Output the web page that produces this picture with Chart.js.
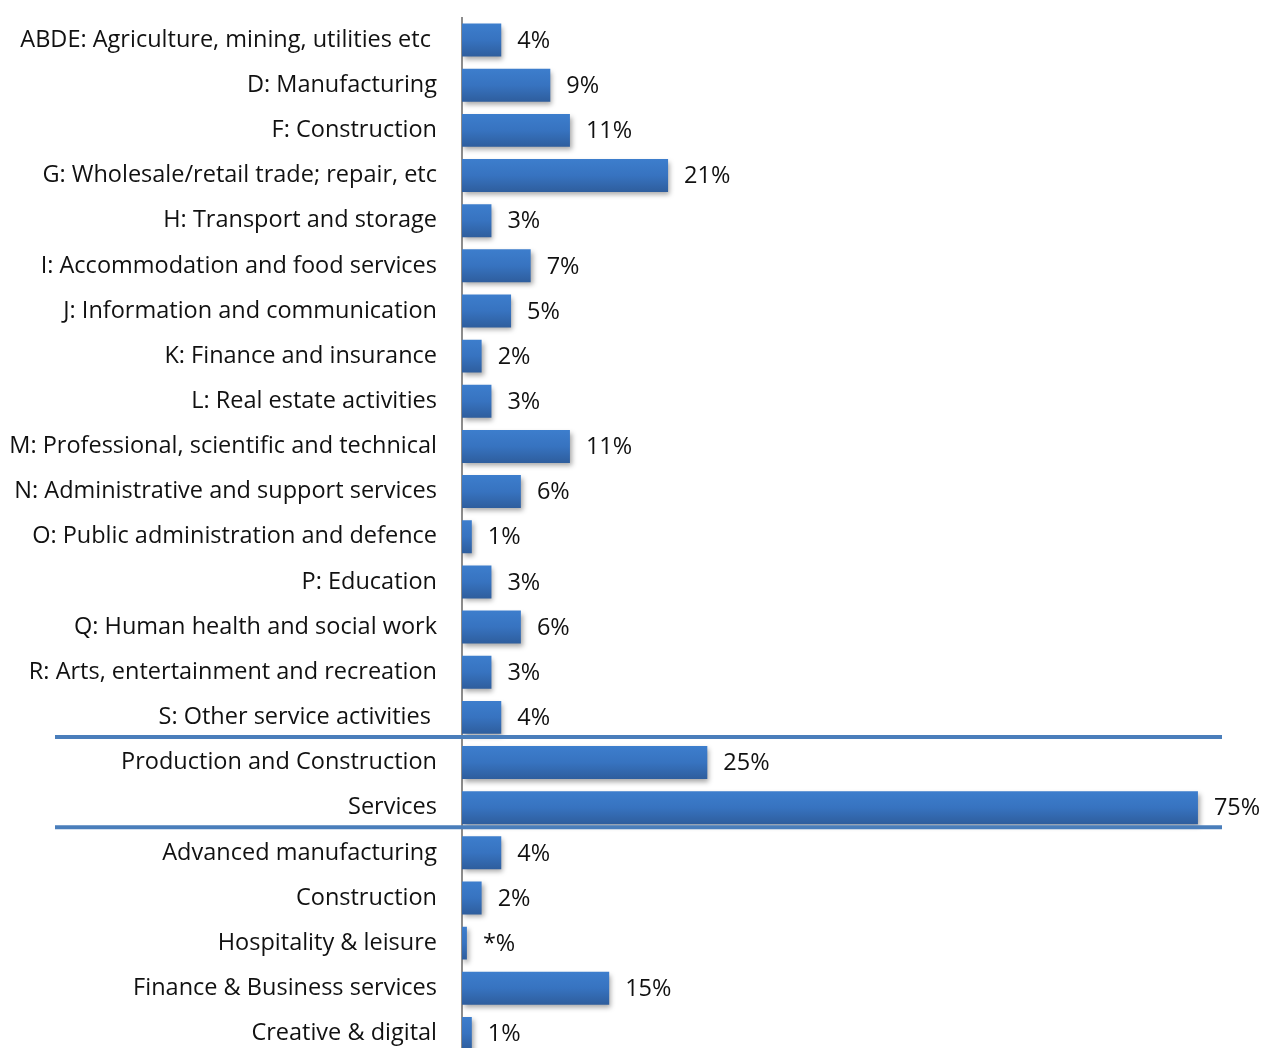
<!DOCTYPE html>
<html>
<head>
<meta charset="utf-8">
<script src="https://cdn.jsdelivr.net/npm/chart.js@4"></script>
<style>
  html, body { margin: 0; padding: 0; background: #fff; overflow: hidden; }
  #wrap { width: 1262px; height: 1056px; }
</style>
</head>
<body>
<div id="wrap"><canvas id="sectorChart" width="1262" height="1056"></canvas></div>
<script>
// sector shares of businesses, in percent
const sectors = [
    'ABDE: Agriculture, mining, utilities etc ',
    'D: Manufacturing',
    'F: Construction',
    'G: Wholesale/retail trade; repair, etc',
    'H: Transport and storage',
    'I: Accommodation and food services',
    'J: Information and communication',
    'K: Finance and insurance',
    'L: Real estate activities',
    'M: Professional, scientific and technical',
    'N: Administrative and support services',
    'O: Public administration and defence',
    'P: Education',
    'Q: Human health and social work',
    'R: Arts, entertainment and recreation',
    'S: Other service activities ',
    'Production and Construction',
    'Services',
    'Advanced manufacturing',
    'Construction',
    'Hospitality & leisure',
    'Finance & Business services',
    'Creative & digital'
];
const shares = [4, 9, 11, 21, 3, 7, 5, 2, 3, 11, 6, 1, 3, 6, 3, 4, 25, 75, 4, 2, 0.5, 15, 1];
// under half a percent is shown as *
const shareLabels = shares.map(v => v < 1 ? '*%' : v + '%');
// separators sit after these rows
const groupBreaks = [15, 17];

const FONT = '"Open Sans", Lato, sans-serif';
const FONT_SIZE = 23.5;

function barFill(context) {
    const chart = context.chart;
    const y = chart.scales && chart.scales.y;
    if (!chart.chartArea || !y || context.dataIndex === undefined) return '#3569ad';
    const mid = y.getPixelForValue(context.dataIndex);
    const g = chart.ctx.createLinearGradient(0, mid - 17, 0, mid + 17);
    g.addColorStop(0, '#3d7ecd');
    g.addColorStop(0.5, '#3773c0');
    g.addColorStop(1, '#2e5d9c');
    return g;
}

const barShadow = {
    id: 'barShadow',
    beforeDatasetDraw(chart) {
        const ctx = chart.ctx;
        ctx.save();
        ctx.shadowColor = 'rgba(0, 0, 0, 0.35)';
        ctx.shadowBlur = 5;
        ctx.shadowOffsetX = 2;
        ctx.shadowOffsetY = 3;
    },
    afterDatasetDraw(chart) {
        chart.ctx.restore();
    }
};

const valueLabels = {
    id: 'valueLabels',
    afterDatasetsDraw(chart) {
        const ctx = chart.ctx;
        const meta = chart.getDatasetMeta(0);
        ctx.save();
        ctx.font = FONT_SIZE + 'px ' + FONT;
        ctx.fillStyle = '#111';
        ctx.textAlign = 'left';
        ctx.textBaseline = 'middle';
        meta.data.forEach((bar, i) => {
            ctx.fillText(shareLabels[i], bar.x + 16, bar.y + 1);
        });
        ctx.restore();
    }
};

const groupLines = {
    id: 'groupLines',
    afterDraw(chart) {
        const ctx = chart.ctx;
        const y = chart.scales.y;
        ctx.save();
        ctx.strokeStyle = '#4a7ebb';
        ctx.lineWidth = 4;
        groupBreaks.forEach(i => {
            const yy = (y.getPixelForValue(i) + y.getPixelForValue(i + 1)) / 2 - 3;
            ctx.beginPath();
            ctx.moveTo(55, yy);
            ctx.lineTo(1222, yy);
            ctx.stroke();
        });
        ctx.restore();
    }
};

new Chart(document.getElementById('sectorChart'), {
    type: 'bar',
    data: {
        labels: sectors,
        datasets: [{
            data: shares,
            backgroundColor: barFill,
            borderWidth: 0,
            barPercentage: 0.73,
            categoryPercentage: 1
        }]
    },
    options: {
        indexAxis: 'y',
        responsive: false,
        animation: false,
        layout: { padding: { top: 17.5, right: 15, bottom: 0, left: 0 } },
        plugins: {
            legend: { display: false },
            tooltip: { enabled: false }
        },
        scales: {
            x: {
                display: false,
                min: 0,
                max: 80
            },
            y: {
                afterFit: (scale) => {
                    scale.width = 462;
                    // no extra room above/below for the tick text
                    scale.paddingTop = 0;
                    scale.paddingBottom = 0;
                },
                grid: { display: false, drawTicks: false },
                border: { display: true, color: '#8c8c8c', width: 2 },
                ticks: {
                    padding: 25,
                    color: '#111',
                    font: { family: FONT, size: FONT_SIZE },
                    autoSkip: false
                }
            }
        }
    },
    plugins: [barShadow, valueLabels, groupLines]
});
</script>
</body>
</html>
